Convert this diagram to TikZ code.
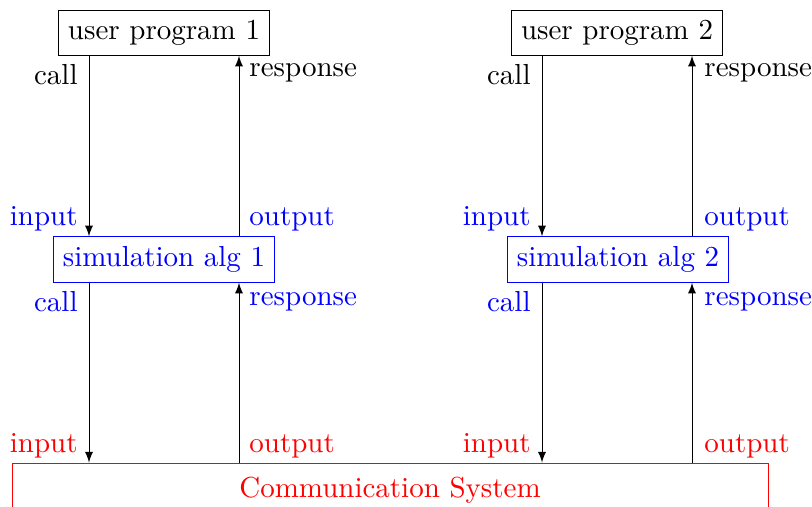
\documentclass[tikz,border=0pt]{standalone}
\begin{document}
\begin{tikzpicture}[x=0.345pt,y=-0.345pt,line width=0.3pt,
  box/.style={draw,rectangle},
  lbl/.style={inner sep=0pt},
  arr/.style={-latex}]
\clip (0,0) rectangle (812,506);
\useasboundingbox (0,0) rectangle (812,506);
% boxes
\node[box] (up1) at (164,33) {user program 1};
\node[box] (up2) at (617,33) {user program 2};
\node[box,draw=blue,text=blue] (sim1) at (164,259.5) {simulation alg 1};
\node[box,draw=blue,text=blue] (sim2) at (618,259.5) {simulation alg 2};
\node[box,draw=red,text=red,minimum width=756*0.345pt,minimum height=54*0.345pt] (comm) at (390,490) {Communication System};
% column 1
\draw[arr] (up1.south -| 89,0) -- (sim1.north -| 89,0);
\draw[arr] (sim1.north -| 239,0) -- (up1.south -| 239,0);
\draw[arr] (sim1.south -| 89,0) -- (comm.north -| 89,0);
\draw[arr] (comm.north -| 239,0) -- (sim1.south -| 239,0);
% column 2
\draw[arr] (up2.south -| 542,0) -- (sim2.north -| 542,0);
\draw[arr] (sim2.north -| 692,0) -- (up2.south -| 692,0);
\draw[arr] (sim2.south -| 542,0) -- (comm.north -| 542,0);
\draw[arr] (comm.north -| 692,0) -- (sim2.south -| 692,0);
% labels column 1
\node[lbl,anchor=base east] (c1a) at (78,84) {call};
\node[lbl,anchor=base west] (r1a) at (249,76) {response};
\node[lbl,anchor=base east,text=blue] (i1b) at (78,225) {input};
\node[lbl,anchor=base west,text=blue] (o1b) at (249,225) {output};
\node[lbl,anchor=base east,text=blue] (c1b) at (78,311) {call};
\node[lbl,anchor=base west,text=blue] (r1b) at (249,305) {response};
\node[lbl,anchor=base east,text=red] (i1c) at (78,452) {input};
\node[lbl,anchor=base west,text=red] (o1c) at (249,452) {output};
% labels column 2
\node[lbl,anchor=base east] (c2a) at (531,84) {call};
\node[lbl,anchor=base west] (r2a) at (704,76) {response};
\node[lbl,anchor=base east,text=blue] (i2b) at (531,225) {input};
\node[lbl,anchor=base west,text=blue] (o2b) at (704,225) {output};
\node[lbl,anchor=base east,text=blue] (c2b) at (531,311) {call};
\node[lbl,anchor=base west,text=blue] (r2b) at (704,305) {response};
\node[lbl,anchor=base east,text=red] (i2c) at (531,452) {input};
\node[lbl,anchor=base west,text=red] (o2c) at (704,452) {output};
\end{tikzpicture}
\end{document}
